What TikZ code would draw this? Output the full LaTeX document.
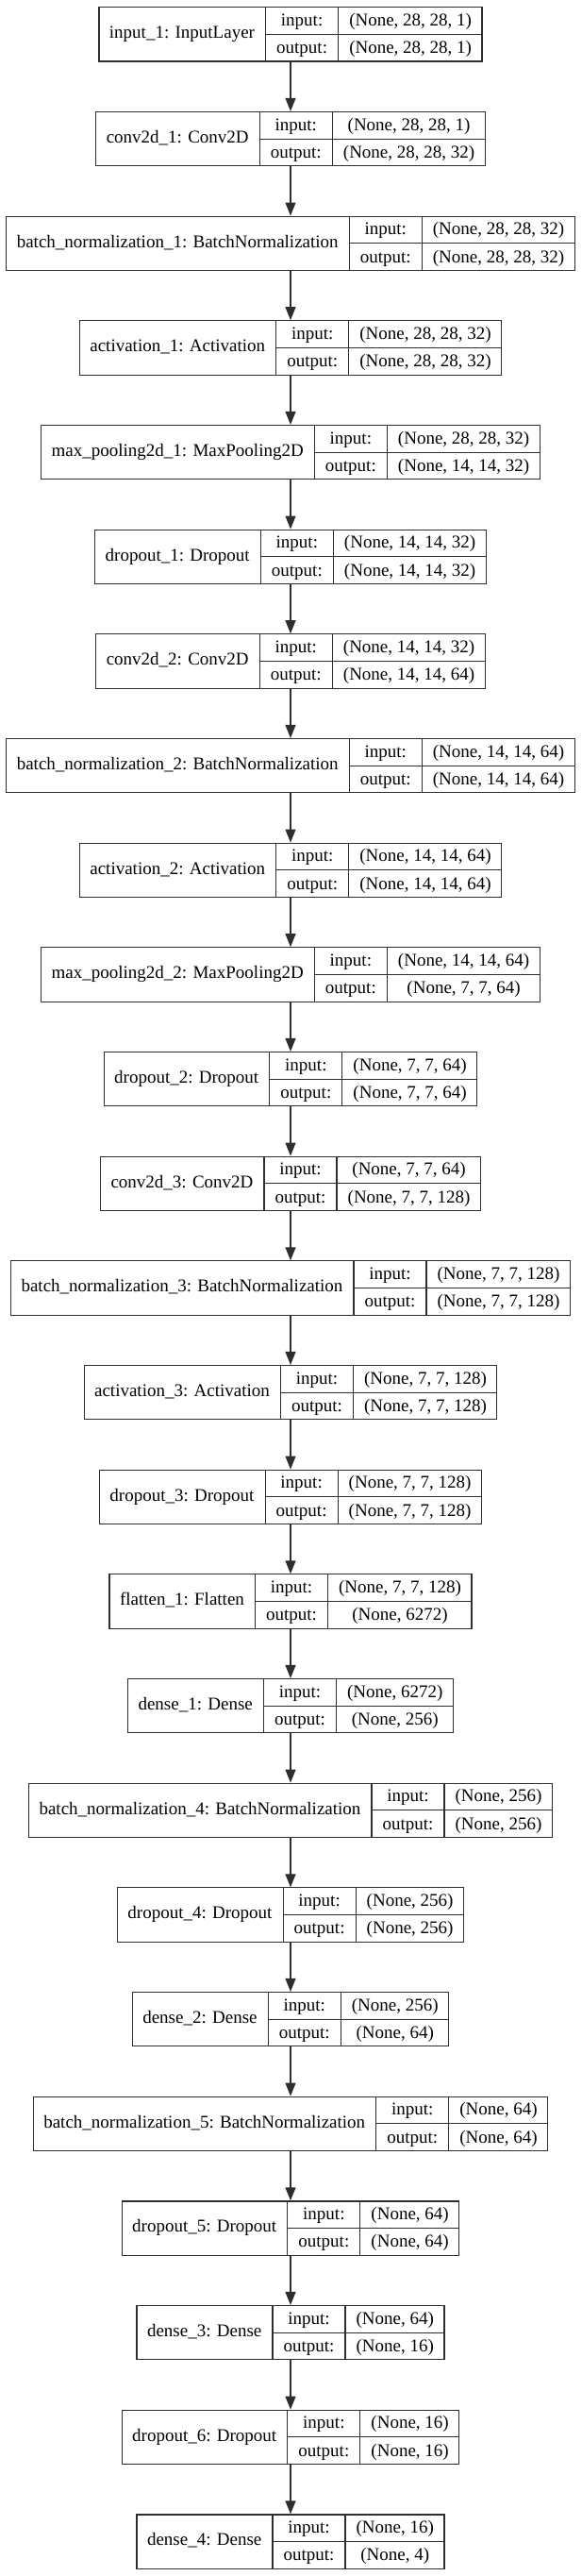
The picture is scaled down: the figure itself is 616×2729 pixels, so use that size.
\documentclass[tikz,border=0pt]{standalone}
\usepackage{fontspec}
\usepackage{colortbl}
\setmainfont{Liberation Serif}
\usetikzlibrary{positioning,arrows.meta}
\colorlet{edgegray}{black!82}
\tikzset{
	model/.style={x=1pt,y=1pt,on grid,node distance=110.67pt},
	layer/.style={draw=edgegray,line width=1.2pt,inner sep=0pt,
		font=\fontsize{19}{22.8}\selectfont},
	flow/.style={-{Triangle[length=14pt,width=11pt]},draw=edgegray,
		fill=edgegray,line width=1.2pt}
}
\setlength{\tabcolsep}{11pt}
\setlength{\arrayrulewidth}{1.2pt}
\arrayrulecolor{edgegray}
\renewcommand{\arraystretch}{1.23}
\newcommand{\layerbox}[3]{%
	\begin{tabular}{c|@{}c@{}}
		#1 & \begin{tabular}{c|c} input: & #2\\ \hline output: & #3\end{tabular}
	\end{tabular}}

\begin{document}
\begin{tikzpicture}[model]
		
		\useasboundingbox (0,0) rectangle (616,-2729);
		
		\node[layer] (input1) at (308,-36.45) {\layerbox{input\_1: InputLayer}{(None, 28, 28, 1)}{(None, 28, 28, 1)}};
		\node[layer] (conv1) [below=of input1] {\layerbox{conv2d\_1: Conv2D}{(None, 28, 28, 1)}{(None, 28, 28, 32)}};
		\node[layer] (bn1) [below=of conv1] {\layerbox{batch\_normalization\_1: BatchNormalization}{(None, 28, 28, 32)}{(None, 28, 28, 32)}};
		\node[layer] (act1) [below=of bn1] {\layerbox{activation\_1: Activation}{(None, 28, 28, 32)}{(None, 28, 28, 32)}};
		\node[layer] (pool1) [below=of act1] {\layerbox{max\_pooling2d\_1: MaxPooling2D}{(None, 28, 28, 32)}{(None, 14, 14, 32)}};
		\node[layer] (drop1) [below=of pool1] {\layerbox{dropout\_1: Dropout}{(None, 14, 14, 32)}{(None, 14, 14, 32)}};
		\node[layer] (conv2) [below=of drop1] {\layerbox{conv2d\_2: Conv2D}{(None, 14, 14, 32)}{(None, 14, 14, 64)}};
		\node[layer] (bn2) [below=of conv2] {\layerbox{batch\_normalization\_2: BatchNormalization}{(None, 14, 14, 64)}{(None, 14, 14, 64)}};
		\node[layer] (act2) [below=of bn2] {\layerbox{activation\_2: Activation}{(None, 14, 14, 64)}{(None, 14, 14, 64)}};
		\node[layer] (pool2) [below=of act2] {\layerbox{max\_pooling2d\_2: MaxPooling2D}{(None, 14, 14, 64)}{(None, 7, 7, 64)}};
		\node[layer] (drop2) [below=of pool2] {\layerbox{dropout\_2: Dropout}{(None, 7, 7, 64)}{(None, 7, 7, 64)}};
		\node[layer] (conv3) [below=of drop2] {\layerbox{conv2d\_3: Conv2D}{(None, 7, 7, 64)}{(None, 7, 7, 128)}};
		\node[layer] (bn3) [below=of conv3] {\layerbox{batch\_normalization\_3: BatchNormalization}{(None, 7, 7, 128)}{(None, 7, 7, 128)}};
		\node[layer] (act3) [below=of bn3] {\layerbox{activation\_3: Activation}{(None, 7, 7, 128)}{(None, 7, 7, 128)}};
		\node[layer] (drop3) [below=of act3] {\layerbox{dropout\_3: Dropout}{(None, 7, 7, 128)}{(None, 7, 7, 128)}};
		\node[layer] (flat1) [below=of drop3] {\layerbox{flatten\_1: Flatten}{(None, 7, 7, 128)}{(None, 6272)}};
		\node[layer] (dense1) [below=of flat1] {\layerbox{dense\_1: Dense}{(None, 6272)}{(None, 256)}};
		\node[layer] (bn4) [below=of dense1] {\layerbox{batch\_normalization\_4: BatchNormalization}{(None, 256)}{(None, 256)}};
		\node[layer] (drop4) [below=of bn4] {\layerbox{dropout\_4: Dropout}{(None, 256)}{(None, 256)}};
		\node[layer] (dense2) [below=of drop4] {\layerbox{dense\_2: Dense}{(None, 256)}{(None, 64)}};
		\node[layer] (bn5) [below=of dense2] {\layerbox{batch\_normalization\_5: BatchNormalization}{(None, 64)}{(None, 64)}};
		\node[layer] (drop5) [below=of bn5] {\layerbox{dropout\_5: Dropout}{(None, 64)}{(None, 64)}};
		\node[layer] (dense3) [below=of drop5] {\layerbox{dense\_3: Dense}{(None, 64)}{(None, 16)}};
		\node[layer] (drop6) [below=of dense3] {\layerbox{dropout\_6: Dropout}{(None, 16)}{(None, 16)}};
		\node[layer] (dense4) [below=of drop6] {\layerbox{dense\_4: Dense}{(None, 16)}{(None, 4)}};
		
		
		\foreach \a/\b in {input1/conv1,conv1/bn1,bn1/act1,act1/pool1,pool1/drop1,
			drop1/conv2,conv2/bn2,bn2/act2,act2/pool2,pool2/drop2,drop2/conv3,
			conv3/bn3,bn3/act3,act3/drop3,drop3/flat1,flat1/dense1,dense1/bn4,
			bn4/drop4,drop4/dense2,dense2/bn5,bn5/drop5,drop5/dense3,
			dense3/drop6,drop6/dense4}
			\path[flow] (\a) edge (\b);
		
		
		\end{tikzpicture}
\end{document}
